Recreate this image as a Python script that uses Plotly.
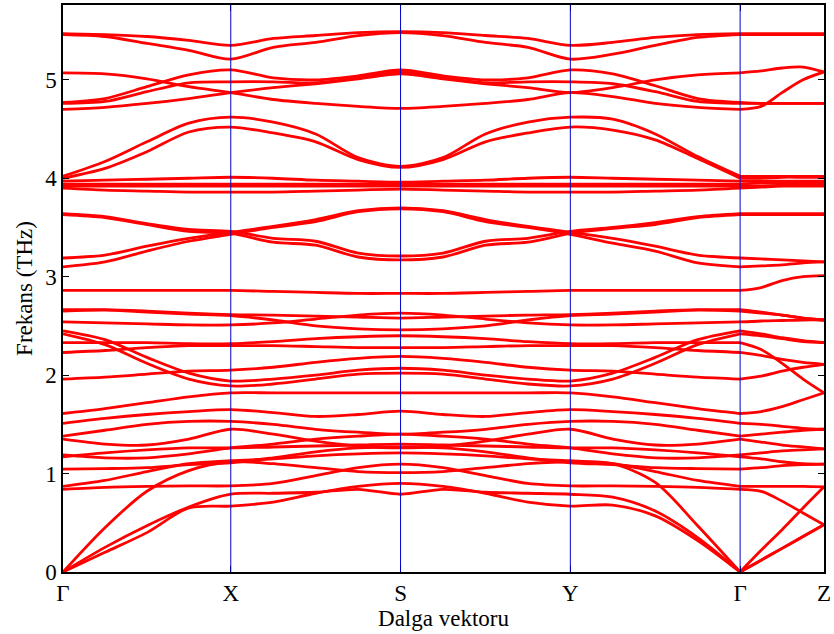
import plotly.graph_objects as go

# Path through the Brillouin zone: Γ–X–S–Y–Γ–Z, sampled every quarter segment
k_path = [0, 42, 84, 126, 168,
          210.5, 253, 295.5, 338,
          380.5, 423, 465.5, 508,
          550.5, 593, 635.5, 678,
          699, 720, 741, 762]
hs_pos = [0, 168, 338, 508, 678, 762]
hs_labels = ["Γ", "X", "S", "Y", "Γ", "Z"]
y_ticks = [0, 1, 2, 3, 4, 5]

# Phonon branches (THz) at the sampled k-points
band_A = [5.47, 5.46, 5.44, 5.40, 5.35, 5.42, 5.45, 5.48, 5.49, 5.48, 5.45, 5.42, 5.35, 5.38, 5.43, 5.46, 5.47, 5.47, 5.47, 5.47, 5.47]
band_B = [5.46, 5.44, 5.37, 5.30, 5.21, 5.33, 5.38, 5.45, 5.48, 5.45, 5.38, 5.33, 5.21, 5.26, 5.35, 5.43, 5.46, 5.46, 5.46, 5.46, 5.46]
band_C1 = [5.07, 5.06, 5.01, 4.93, 4.87, 4.80, 4.76, 4.73, 4.71, 4.73, 4.76, 4.80, 4.87, 4.83, 4.76, 4.72, 4.70, 4.73, 4.87, 5.00, 5.08]
band_C2 = [4.77, 4.81, 4.93, 5.05, 5.10, 5.02, 5.00, 5.04, 5.10, 5.04, 5.00, 5.02, 5.10, 5.06, 4.94, 4.81, 4.77, 4.76, 4.76, 4.76, 4.76]
band_C3 = [4.76, 4.78, 4.88, 4.97, 4.98, 4.98, 4.97, 5.02, 5.08, 5.02, 4.97, 4.98, 4.98, 4.96, 4.88, 4.78, 4.76, 4.76, 4.76, 4.76, 4.76]
band_C4 = [4.70, 4.72, 4.76, 4.81, 4.87, 4.92, 4.96, 5.01, 5.06, 5.01, 4.96, 4.92, 4.87, 4.92, 5.00, 5.05, 5.07, 5.09, 5.12, 5.13, 5.08]
band_D1 = [4.02, 4.17, 4.37, 4.56, 4.62, 4.57, 4.45, 4.21, 4.12, 4.21, 4.45, 4.57, 4.62, 4.60, 4.45, 4.22, 4.02, 4.02, 4.02, 4.02, 4.02]
band_D2 = [4.00, 4.10, 4.27, 4.47, 4.52, 4.46, 4.37, 4.19, 4.11, 4.19, 4.37, 4.46, 4.52, 4.49, 4.39, 4.20, 4.00, 4.00, 4.01, 4.01, 4.01]
band_E1 = [3.97, 3.98, 3.99, 4.00, 4.01, 4.00, 3.98, 3.97, 3.96, 3.97, 3.98, 4.00, 4.01, 4.00, 3.99, 3.98, 3.97, 3.97, 3.97, 3.97, 3.97]
band_E2 = [3.94, 3.94, 3.94, 3.94, 3.94, 3.94, 3.94, 3.94, 3.94, 3.94, 3.94, 3.94, 3.94, 3.94, 3.94, 3.94, 3.94, 3.95, 3.95, 3.95, 3.95]
band_E3 = [3.92, 3.92, 3.92, 3.92, 3.92, 3.92, 3.92, 3.92, 3.92, 3.92, 3.92, 3.92, 3.92, 3.92, 3.92, 3.92, 3.92, 3.92, 3.93, 3.93, 3.93]
band_E4 = [3.90, 3.88, 3.87, 3.86, 3.86, 3.86, 3.87, 3.88, 3.89, 3.88, 3.87, 3.86, 3.86, 3.86, 3.87, 3.88, 3.90, 3.91, 3.92, 3.92, 3.92]
band_F1 = [3.64, 3.61, 3.54, 3.48, 3.46, 3.39, 3.36, 3.24, 3.21, 3.24, 3.36, 3.39, 3.46, 3.50, 3.55, 3.61, 3.64, 3.64, 3.64, 3.64, 3.64]
band_F2 = [3.63, 3.60, 3.53, 3.46, 3.44, 3.35, 3.32, 3.20, 3.17, 3.20, 3.32, 3.35, 3.44, 3.49, 3.53, 3.60, 3.63, 3.63, 3.63, 3.63, 3.63]
band_F3 = [3.19, 3.22, 3.31, 3.39, 3.45, 3.51, 3.58, 3.67, 3.70, 3.67, 3.58, 3.51, 3.45, 3.39, 3.31, 3.22, 3.19, 3.18, 3.17, 3.16, 3.15]
band_F4 = [3.10, 3.15, 3.26, 3.36, 3.43, 3.50, 3.56, 3.66, 3.69, 3.66, 3.56, 3.50, 3.43, 3.34, 3.26, 3.14, 3.10, 3.11, 3.12, 3.14, 3.15]
band_G = [2.86, 2.86, 2.86, 2.86, 2.86, 2.85, 2.84, 2.83, 2.83, 2.83, 2.84, 2.85, 2.86, 2.86, 2.86, 2.86, 2.86, 2.89, 2.96, 3.00, 3.01]
band_H1 = [2.665, 2.665, 2.65, 2.63, 2.615, 2.61, 2.60, 2.59, 2.58, 2.59, 2.60, 2.61, 2.615, 2.63, 2.65, 2.665, 2.665, 2.64, 2.61, 2.58, 2.56]
band_H2 = [2.65, 2.66, 2.64, 2.62, 2.605, 2.56, 2.50, 2.47, 2.46, 2.47, 2.50, 2.56, 2.605, 2.62, 2.64, 2.66, 2.65, 2.63, 2.61, 2.58, 2.56]
band_H3 = [2.54, 2.53, 2.52, 2.51, 2.51, 2.53, 2.57, 2.61, 2.63, 2.61, 2.57, 2.53, 2.51, 2.51, 2.52, 2.53, 2.54, 2.55, 2.555, 2.56, 2.56]
band_H4 = [2.45, 2.36, 2.18, 2.02, 1.94, 1.96, 2.00, 2.05, 2.07, 2.05, 2.00, 1.96, 1.94, 2.02, 2.18, 2.36, 2.45, 2.42, 2.38, 2.35, 2.33]
band_H5 = [2.42, 2.31, 2.12, 1.96, 1.89, 1.91, 1.96, 2.01, 2.02, 2.01, 1.96, 1.91, 1.89, 1.96, 2.12, 2.31, 2.42, 2.40, 2.37, 2.34, 2.33]
band_H6 = [2.33, 2.33, 2.33, 2.32, 2.32, 2.34, 2.37, 2.39, 2.40, 2.39, 2.37, 2.34, 2.32, 2.32, 2.33, 2.33, 2.33, 2.26, 2.12, 1.96, 1.82]
band_H7 = [2.23, 2.25, 2.28, 2.30, 2.30, 2.30, 2.29, 2.28, 2.28, 2.28, 2.29, 2.30, 2.30, 2.30, 2.28, 2.25, 2.23, 2.20, 2.16, 2.13, 2.11]
band_H8 = [1.96, 1.98, 2.01, 2.04, 2.05, 2.08, 2.13, 2.17, 2.19, 2.17, 2.13, 2.08, 2.05, 2.04, 2.01, 1.98, 1.96, 1.99, 2.04, 2.08, 2.11]
band_H9 = [1.61, 1.66, 1.72, 1.78, 1.82, 1.82, 1.82, 1.82, 1.82, 1.82, 1.82, 1.82, 1.82, 1.78, 1.72, 1.66, 1.61, 1.63, 1.68, 1.75, 1.82]
band_L8 = [1.51, 1.56, 1.60, 1.63, 1.65, 1.62, 1.58, 1.60, 1.635, 1.60, 1.58, 1.62, 1.65, 1.63, 1.60, 1.56, 1.51, 1.50, 1.48, 1.46, 1.45]
band_L7 = [1.38, 1.44, 1.50, 1.53, 1.53, 1.50, 1.45, 1.42, 1.40, 1.42, 1.45, 1.50, 1.53, 1.53, 1.50, 1.44, 1.38, 1.40, 1.42, 1.44, 1.45]
band_L6 = [1.35, 1.30, 1.29, 1.35, 1.45, 1.40, 1.33, 1.28, 1.26, 1.28, 1.33, 1.40, 1.45, 1.35, 1.29, 1.30, 1.35, 1.32, 1.29, 1.27, 1.25]
band_L5 = [1.19, 1.16, 1.16, 1.20, 1.26, 1.30, 1.35, 1.38, 1.40, 1.38, 1.35, 1.30, 1.26, 1.20, 1.16, 1.16, 1.19, 1.21, 1.23, 1.24, 1.25]
band_L4 = [1.17, 1.21, 1.24, 1.26, 1.26, 1.27, 1.28, 1.29, 1.30, 1.29, 1.28, 1.27, 1.26, 1.26, 1.24, 1.21, 1.17, 1.15, 1.12, 1.10, 1.095]
band_L3 = [1.045, 1.05, 1.06, 1.09, 1.11, 1.16, 1.22, 1.26, 1.27, 1.26, 1.22, 1.16, 1.11, 1.09, 1.06, 1.05, 1.045, 1.06, 1.08, 1.09, 1.095]
band_L2 = [0.87, 0.93, 1.02, 1.10, 1.13, 1.15, 1.18, 1.20, 1.21, 1.20, 1.18, 1.15, 1.13, 1.10, 1.02, 0.93, 0.87, 0.87, 0.87, 0.87, 0.865]
band_L1 = [0.84, 0.86, 0.87, 0.875, 0.875, 0.90, 0.98, 1.06, 1.095, 1.06, 0.98, 0.90, 0.875, 0.875, 0.87, 0.86, 0.84, 0.82, 0.72, 0.60, 0.48]
band_LA = [0.0, 0.45, 0.82, 1.03, 1.12, 1.10, 1.06, 1.02, 1.01, 1.02, 1.06, 1.10, 1.12, 1.10, 0.91, 0.47, 0.0, 0.22, 0.43, 0.65, 0.865]
band_TA2 = [0.0, 0.25, 0.47, 0.66, 0.79, 0.80, 0.81, 0.84, 0.79, 0.84, 0.81, 0.80, 0.79, 0.76, 0.62, 0.35, 0.0, 0.12, 0.24, 0.36, 0.48]
band_TA1 = [0.0, 0.20, 0.40, 0.65, 0.67, 0.71, 0.80, 0.87, 0.90, 0.87, 0.80, 0.71, 0.67, 0.68, 0.57, 0.32, 0.0, 0.12, 0.24, 0.36, 0.48]

bands = [band_A, band_B, band_C1, band_C2, band_C3, band_C4, band_D1, band_D2,
         band_E1, band_E2, band_E3, band_E4, band_F1, band_F2, band_F3, band_F4,
         band_G, band_H1, band_H2, band_H3, band_H4, band_H5, band_H6, band_H7,
         band_H8, band_H9, band_L8, band_L7, band_L6, band_L5, band_L4, band_L3,
         band_L2, band_L1, band_LA, band_TA2, band_TA1]

SERIF = "Liberation Serif"
RED = "#ff0000"

fig = go.Figure()

# Each branch is drawn in two pieces, split at the second Γ point
for b in bands:
    for lo, hi in ((0, 17), (16, 21)):
        fig.add_trace(go.Scatter(
            x=k_path[lo:hi], y=b[lo:hi], mode="lines",
            line=dict(color=RED, width=2.8, shape="spline", smoothing=0.85),
            hoverinfo="skip", showlegend=False))

# Vertical guides at interior high-symmetry points
for xv in hs_pos[1:-1]:
    fig.add_shape(type="line", x0=xv, x1=xv, y0=0, y1=1, xref="x", yref="paper",
                  line=dict(color="#0000c8", width=1), layer="above")

axis_common = dict(showgrid=False, zeroline=False, showline=True, linecolor="black",
                   linewidth=1.5, mirror="ticks", ticks="inside", ticklen=6,
                   tickcolor="black", tickwidth=1.2,
                   tickfont=dict(family=SERIF, size=23, color="black"))

fig.update_xaxes(range=[hs_pos[0], hs_pos[-1]], tickvals=hs_pos, ticktext=hs_labels,
                 title=dict(text="Dalga vektoru", font=dict(family=SERIF, size=23, color="black"),
                            standoff=2),
                 **axis_common)
fig.update_yaxes(range=[0, 5.76], tickvals=y_ticks, ticktext=[str(v) for v in y_ticks],
                 title=dict(text="Frekans (THz)", font=dict(family=SERIF, size=23, color="black"),
                            standoff=6),
                 **axis_common)

fig.update_layout(width=834, height=634, margin=dict(l=63, r=9, t=3, b=62),
                  plot_bgcolor="white", paper_bgcolor="white")

fig.write_html("out.html")
